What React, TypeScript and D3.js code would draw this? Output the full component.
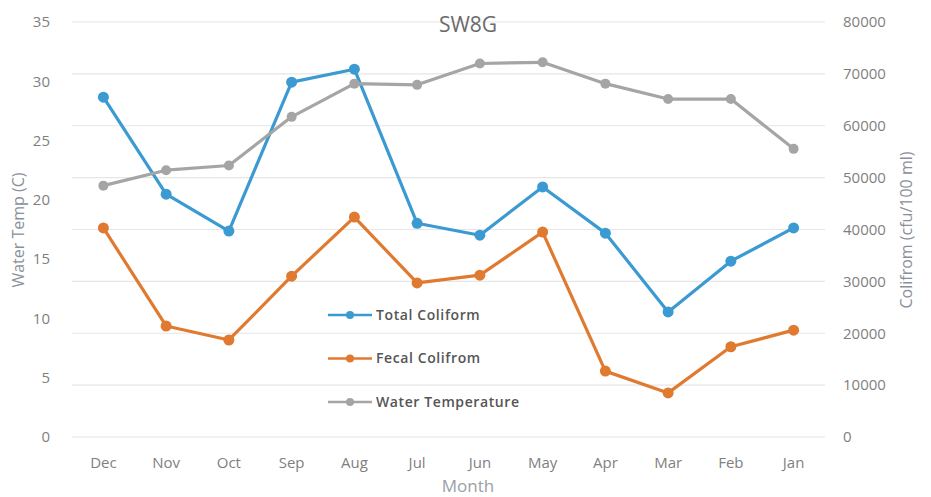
import React from "react";
import * as d3 from "d3";

const months = ["Dec", "Nov", "Oct", "Sep", "Aug", "Jul", "Jun", "May", "Apr", "Mar", "Feb", "Jan"];
const totalColiform = [65500, 46800, 39700, 68400, 70900, 41200, 38900, 48200, 39300, 24100, 33900, 40300];
const fecalColiform = [40300, 21400, 18700, 31000, 42400, 29700, 31200, 39500, 12700, 8500, 17400, 20600];
const waterTemp = [21.2, 22.5, 22.9, 27.0, 29.8, 29.7, 31.5, 31.6, 29.8, 28.5, 28.5, 24.3];
const leftTicks = [0, 5, 10, 15, 20, 25, 30, 35];
const rightTicks = [0, 10000, 20000, 30000, 40000, 50000, 60000, 70000, 80000];

const W = 931, H = 497;
const plotL = 72, plotR = 825, plotT = 22, plotB = 437;

export default function App() {
  const x = d3.scaleBand().domain(months).range([plotL, plotR]);
  const yL = d3.scaleLinear().domain([0, 35]).range([plotB, plotT]);
  const yR = d3.scaleLinear().domain([0, 80000]).range([plotB, plotT]);
  const cx = (m: string) => (x(m) as number) + x.bandwidth() / 2;

  const lineR = d3.line<number>().x((_, i) => cx(months[i])).y((d) => yR(d));
  const lineL = d3.line<number>().x((_, i) => cx(months[i])).y((d) => yL(d));

  const series = [
    { name: "Total Coliform", data: totalColiform, color: "#3A9AD1", line: lineR, y: yR, r: 5.5 },
    { name: "Fecal Colifrom", data: fecalColiform, color: "#E07A30", line: lineR, y: yR, r: 5.5 },
    { name: "Water Temperature", data: waterTemp, color: "#A5A5A5", line: lineL, y: yL, r: 5 },
  ];
  const tickColor = "#7f7f7f";
  const font = "'Open Sans', 'Noto Sans', sans-serif";

  return (
    <svg width={W} height={H} style={{ position: "absolute", left: 0, top: 0, background: "#fff" }} fontFamily={font}>
      {rightTicks.map((t) => (
        <line key={t} x1={plotL} x2={plotR} y1={yR(t)} y2={yR(t)} stroke="#e6e6e6" strokeWidth={1.2} />
      ))}
      {leftTicks.map((t) => (
        <text key={t} x={50} y={yL(t)} dy="0.35em" textAnchor="end" fontSize={15} fill={tickColor}>{t}</text>
      ))}
      {rightTicks.map((t) => (
        <text key={t} x={843} y={yR(t)} dy="0.35em" textAnchor="start" fontSize={15} fill={tickColor}>{t}</text>
      ))}
      {months.map((m) => (
        <text key={m} x={cx(m)} y={468} textAnchor="middle" fontSize={15} fill={tickColor}>{m}</text>
      ))}
      <text x={468} y={32} textAnchor="middle" fontSize={21} fill="#6b6b6b">SW8G</text>
      <text x={468} y={492} textAnchor="middle" fontSize={17} fill="#9aa0a8">Month</text>
      <text transform={`translate(24,230) rotate(-90)`} textAnchor="middle" fontSize={16} fill="#8a9099">Water Temp (C)</text>
      <text transform={`translate(912,230) rotate(-90)`} textAnchor="middle" fontSize={16} fill="#8a9099">Colifrom (cfu/100 ml)</text>
      {series.map((s) => (
        <g key={s.name}>
          <path d={s.line(s.data) || ""} fill="none" stroke={s.color} strokeWidth={3.2} strokeLinejoin="round" />
          {s.data.map((v, i) => (
            <circle key={i} cx={cx(months[i])} cy={s.y(v)} r={s.r} fill={s.color} />
          ))}
        </g>
      ))}
      {series.map((s, i) => {
        const ly = 315 + i * 43.5;
        return (
          <g key={s.name}>
            <line x1={328} x2={372} y1={ly} y2={ly} stroke={s.color} strokeWidth={2.5} />
            <circle cx={350} cy={ly} r={4} fill={s.color} />
            <text x={376} y={ly} dy="0.35em" fontSize={14} letterSpacing={0.6} fontWeight={600} fill="#555">{s.name}</text>
          </g>
        );
      })}
    </svg>
  );
}
